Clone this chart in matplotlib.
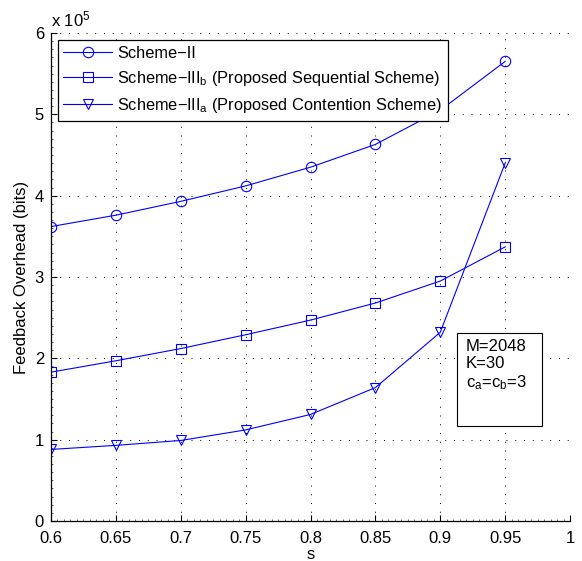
import matplotlib
matplotlib.use("Agg")
import matplotlib.pyplot as plt
from matplotlib.ticker import MultipleLocator, FuncFormatter
from matplotlib.patches import Rectangle

plt.rcParams['font.family'] = ['Liberation Sans', 'DejaVu Sans']
plt.rcParams['mathtext.fontset'] = 'custom'
plt.rcParams['mathtext.rm'] = 'Liberation Sans'
plt.rcParams['mathtext.it'] = 'Liberation Sans'

s = [0.6, 0.65, 0.7, 0.75, 0.8, 0.85, 0.9, 0.95]
scheme_II = [3.62e5, 3.76e5, 3.93e5, 4.12e5, 4.35e5, 4.63e5, 5.05e5, 5.65e5]
scheme_IIIb = [1.83e5, 1.97e5, 2.12e5, 2.29e5, 2.47e5, 2.68e5, 2.95e5, 3.37e5]
scheme_IIIa = [0.88e5, 0.93e5, 0.99e5, 1.12e5, 1.31e5, 1.64e5, 2.32e5, 4.40e5]
labels = ["Scheme\u2212II",
          "Scheme\u2212III$_{\\mathregular{b}}$ (Proposed Sequential Scheme)",
          "Scheme\u2212III$_{\\mathregular{a}}$ (Proposed Contention Scheme)"]
xlabel = "s"
ylabel = "Feedback Overhead (bits)"
note = "M=2048\nK=30\nc$_{\\mathregular{a}}$=c$_{\\mathregular{b}}$=3"

fig = plt.figure(figsize=(5.82, 5.61), dpi=100)
ax = fig.add_axes([51/582, 40/561, 519/582, 488/561])

blue = (0, 0, 1)
kw = dict(color=blue, lw=0.8, mfc='none', mec=blue, ms=7.5, mew=0.8)
ax.plot(s, scheme_II, marker='o', label=labels[0], zorder=2, **kw)
ax.plot(s, scheme_IIIb, marker='s', label=labels[1], zorder=2, **kw)
ax.plot(s, scheme_IIIa, marker='v', label=labels[2], zorder=2, **kw)

ax.set_xlim(0.6, 1.0)
ax.set_ylim(0, 6e5)
ax.set_xticks([0.6, 0.65, 0.7, 0.75, 0.8, 0.85, 0.9, 0.95, 1.0])
ax.set_xticklabels(["0.6", "0.65", "0.7", "0.75", "0.8", "0.85", "0.9", "0.95", "1"])
ax.yaxis.set_major_locator(MultipleLocator(1e5))
ax.yaxis.set_major_formatter(FuncFormatter(lambda v, p: f"{v/1e5:g}"))
ax.xaxis.set_minor_locator(MultipleLocator(0.005))
ax.yaxis.set_minor_locator(MultipleLocator(0.1e5))
ax.tick_params(which='both', direction='in', top=False, right=False, labelsize=12)
ax.tick_params(which='major', length=4, width=0.8)
ax.tick_params(which='minor', length=1.5, width=0.6, color='#555555')
ax.tick_params(axis='x', pad=7)
ax.tick_params(axis='y', pad=5)
ax.grid(True, which='major', linestyle=(0, (1, 8)), color='black', lw=0.7)
ax.spines['top'].set_visible(False)
ax.spines['right'].set_visible(False)
for sp in ax.spines.values():
    sp.set_linewidth(0.9)

ax.set_xlabel(xlabel, fontsize=12, labelpad=1)
ax.set_ylabel(ylabel, fontsize=12, labelpad=4)
ax.text(0.0, 1.008, "x 10$^{\\mathregular{5}}$", transform=ax.transAxes, fontsize=12,
        ha='left', va='bottom')

leg = ax.legend(loc='upper left', bbox_to_anchor=(0.013, 0.986), fontsize=11.75,
                frameon=True, fancybox=False, edgecolor='black', framealpha=1,
                handlelength=2.95, borderpad=0.35, labelspacing=0.5, handletextpad=0.36,
                borderaxespad=0)
leg.get_frame().set_linewidth(0.9)
leg.set_zorder(5)

bx0, bx1 = (456.7 - 51) / 519, (542 - 51) / 519
by0, by1 = (521.8 - 426.7) / 488, (521.8 - 334) / 488
ax.add_patch(Rectangle((bx0, by0), bx1 - bx0, by1 - by0, transform=ax.transAxes,
                       fc='white', ec='black', lw=0.8, zorder=4))
ax.text(bx0 + 0.018, by1 - 0.012, note, transform=ax.transAxes, fontsize=12,
        ha='left', va='top', linespacing=1.15, zorder=6)

fig.savefig("out.png", dpi=100)
